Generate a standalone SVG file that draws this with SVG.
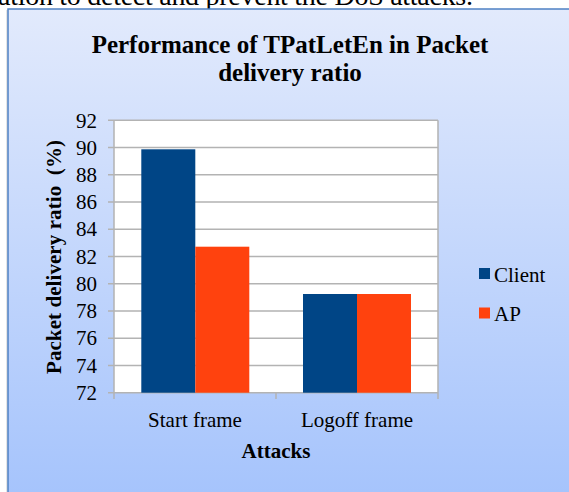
<svg xmlns="http://www.w3.org/2000/svg" width="569" height="492" viewBox="0 0 569 492">
  <style>
    .serif { font-family: "Liberation Serif", "Times New Roman", serif; fill: #000; }
    .tick { font-size: 21px; text-anchor: end; }
    .cat { font-size: 21px; text-anchor: middle; }
    .bold { font-weight: bold; }
    .grid { stroke: #b3b3b3; stroke-width: 1.5; fill: none; }
    .client { fill: #004586; }
    .ap { fill: #ff420e; }
  </style>
  <defs>
    <linearGradient id="panelFill" x1="0" y1="9" x2="0" y2="492" gradientUnits="userSpaceOnUse">
      <stop offset="0" stop-color="#e2eafc"/>
      <stop offset="1" stop-color="#a6c4fc"/>
    </linearGradient>
  </defs>

  <!-- page background and the tail of the preceding paragraph line -->
  <rect x="0" y="0" width="569" height="492" fill="#ffffff"/>
  <text class="serif" x="-2" y="5" font-size="28" textLength="475" lengthAdjust="spacing">ation to detect and prevent the DoS attacks.</text>

  <!-- chart panel -->
  <g id="panel">
    <rect x="6" y="10" width="570" height="490" fill="#e4e4e4"/>
    <rect x="8" y="9" width="570" height="490" fill="url(#panelFill)" stroke="#4f81c4" stroke-width="1.5"/>
  </g>

  <!-- chart title -->
  <g id="title" class="serif bold" font-size="25" text-anchor="middle">
    <text x="290" y="53">Performance of TPatLetEn in Packet</text>
    <text x="290" y="81">delivery ratio</text>
  </g>

  <!-- plot area with gridlines -->
  <g id="plot-area">
    <rect x="114" y="120.3" width="324" height="272.4" fill="#ffffff"/>
    <path class="grid" d="M108 120.3H438 M108 147.5H438 M108 174.8H438 M108 202H438 M108 229.2H438 M108 256.5H438 M108 283.7H438 M108 311H438 M108 338.2H438 M108 365.4H438 M108 392.7H438 M438 120.3V399 M114 120.3V399 M276 392.7V399"/>
  </g>

  <!-- value axis labels -->
  <g id="value-axis" class="serif tick">
    <text x="97" y="127.5">92</text>
    <text x="97" y="154.7">90</text>
    <text x="97" y="182">88</text>
    <text x="97" y="209.2">86</text>
    <text x="97" y="236.4">84</text>
    <text x="97" y="263.7">82</text>
    <text x="97" y="290.9">80</text>
    <text x="97" y="318.2">78</text>
    <text x="97" y="345.4">76</text>
    <text x="97" y="372.6">74</text>
    <text x="97" y="399.9">72</text>
  </g>
  <text class="serif bold" font-size="21" text-anchor="middle" textLength="234" lengthAdjust="spacing" transform="translate(61 257) rotate(-90)">Packet delivery ratio&#160; (%)</text>

  <!-- bars -->
  <g id="series-client">
    <rect class="client" x="141.3" y="149.3" width="54" height="243.4"/>
    <rect class="client" x="303" y="294" width="54" height="98.7"/>
  </g>
  <g id="series-ap">
    <rect class="ap" x="195.3" y="246.7" width="54" height="146"/>
    <rect class="ap" x="357" y="294" width="54" height="98.7"/>
  </g>

  <!-- category axis labels -->
  <g id="category-axis" class="serif cat">
    <text x="195" y="426.5">Start frame</text>
    <text x="357" y="426.5">Logoff frame</text>
  </g>
  <text class="serif bold" font-size="21" text-anchor="middle" x="276" y="458">Attacks</text>

  <!-- legend -->
  <g id="legend" class="serif" font-size="21">
    <rect class="client" x="479" y="268" width="11" height="11"/>
    <text x="494" y="281.7">Client</text>
    <rect class="ap" x="479" y="307.5" width="11" height="11"/>
    <text x="494" y="320.5">AP</text>
  </g>
</svg>
